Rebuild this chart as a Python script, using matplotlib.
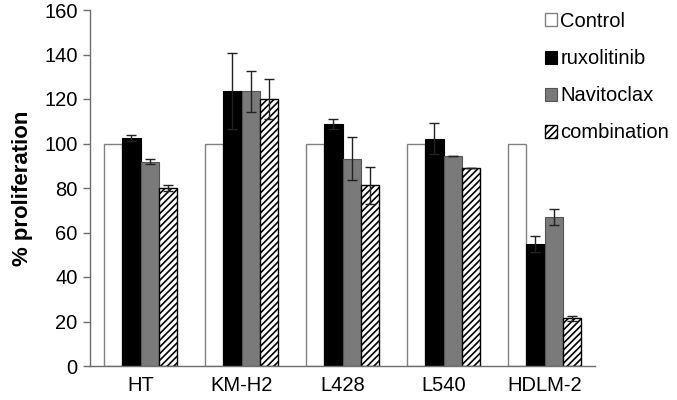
import numpy as np
import matplotlib.pyplot as plt

plt.rcParams['font.family'] = ['Liberation Sans', 'DejaVu Sans']
plt.rcParams['hatch.linewidth'] = 1.2

cell_lines = ["HT", "KM-H2", "L428", "L540", "HDLM-2"]
series = ["Control", "ruxolitinib", "Navitoclax", "combination"]

control = [100, 100, 100, 100, 100]
ruxolitinib = [102.5, 123.5, 108.8, 102.2, 55.0]
navitoclax = [91.8, 123.5, 93.2, 94.2, 67.0]
combination = [80.0, 120.0, 81.2, 89.2, 21.5]

rux_err = [1.5, 17.0, 2.4, 7.0, 3.6]
nav_err = [1.2, 9.2, 9.8, 0.0, 3.6]
comb_err = [1.3, 9.0, 8.3, 0.0, 1.1]

fig = plt.figure(figsize=(6.77, 4.0), dpi=100)
ax = fig.add_axes([0.133, 0.085, 0.746, 0.89])

x = np.arange(len(cell_lines))
w = 0.18
axis_col = "#6e6e6e"

ax.bar(x - 1.5 * w, control, w, color="white", edgecolor="#808080", linewidth=1.0,
       label=series[0])
ax.bar(x - 0.5 * w, ruxolitinib, w, color="black", edgecolor="black", linewidth=0.8,
       label=series[1])
ax.bar(x + 0.5 * w, navitoclax, w, color="#7a7a7a", edgecolor="#555555", linewidth=0.8,
       label=series[2])
ax.bar(x + 1.5 * w, combination, w, color="white", edgecolor="black", linewidth=1.0,
       hatch="/////", label=series[3])

for offs, vals, errs in [(-0.5, ruxolitinib, rux_err), (0.5, navitoclax, nav_err),
                         (1.5, combination, comb_err)]:
    ax.errorbar(x + offs * w, vals, yerr=errs, fmt="none", ecolor="#222222",
                elinewidth=1.0, capsize=3.5, capthick=1.0)

ax.set_xlim(-0.5, len(cell_lines) - 0.5)
ax.set_ylim(0, 160)
ax.set_yticks(range(0, 161, 20))
ax.set_xticks(x)
ax.set_xticklabels(cell_lines)
ax.tick_params(axis="x", length=0, pad=7, labelsize=14.5)
ax.tick_params(axis="y", length=5, width=1.0, color=axis_col, labelsize=14.5, pad=4)
for s in ["top", "right"]:
    ax.spines[s].set_visible(False)
for s in ["left", "bottom"]:
    ax.spines[s].set_color(axis_col)
    ax.spines[s].set_linewidth(1.0)

ax.set_ylabel("% proliferation", fontsize=16, fontweight="bold", labelpad=8)

fig.legend(loc="upper left", bbox_to_anchor=(0.793, 0.99), frameon=False,
           fontsize=14.5, handlelength=0.62, handleheight=0.62, handletextpad=0.15,
           labelspacing=0.9, borderaxespad=0)

fig.savefig("out.png", dpi=100)
